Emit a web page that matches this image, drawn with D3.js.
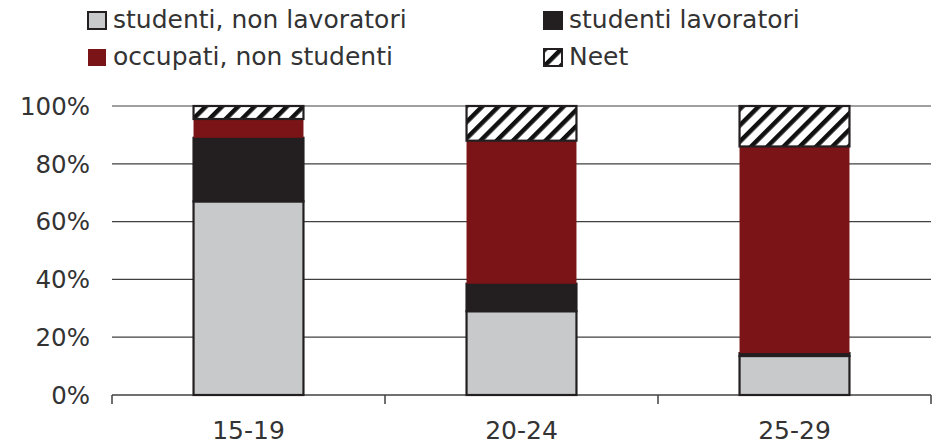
<!DOCTYPE html>
<html>
<head>
<meta charset="utf-8">
<script src="https://cdn.jsdelivr.net/npm/d3@7"></script>
<style>
  body { margin: 0; background: #fff; }
  text { font-family: "DejaVu Sans", Verdana, sans-serif; fill: #333; }
</style>
</head>
<body>
<svg id="chart" width="939" height="446"></svg>
<script>
var categories = ["15-19", "20-24", "25-29"];
var seriesNames = ["studenti, non lavoratori", "studenti lavoratori", "occupati, non studenti", "Neet"];
var studentiNonLavoratori = [67, 29, 13.5];
var studentiLavoratori = [22, 9.5, 1];
var occupatiNonStudenti = [6.5, 49.5, 71.5];
var neet = [4.5, 12, 14];
var yTicks = [0, 20, 40, 60, 80, 100];

var keys = ["snl", "sl", "ons", "neet"];
var rows = categories.map(function(c, i) {
    return {cat: c, snl: studentiNonLavoratori[i], sl: studentiLavoratori[i], ons: occupatiNonStudenti[i], neet: neet[i]};
});

var svg = d3.select("#chart");
var plotLeft = 112, plotRight = 931, plotBottom = 395, plotTop = 106;

var defs = svg.append("defs");
defs.append("pattern")
    .attr("id", "hatch")
    .attr("patternUnits", "userSpaceOnUse")
    .attr("width", 11.5).attr("height", 11.5)
    .attr("patternTransform", "rotate(45)")
    .call(function(p) {
        p.append("rect").attr("width", 11.5).attr("height", 11.5).attr("fill", "#fff");
        p.append("rect").attr("width", 4.5).attr("height", 11.5).attr("fill", "#111");
    });

var fills = {snl: "#c8c9cb", sl: "#231f20", ons: "#7b1416", neet: "url(#hatch)"};
var strokes = {snl: "#231f20", sl: "#231f20", ons: "none", neet: "#231f20"};

var x = d3.scaleBand()
    .domain(categories)
    .range([plotLeft, plotRight])
    .paddingInner(0.59)
    .paddingOuter(0.295);

var xEdges = d3.scaleBand().domain(categories).range([plotLeft, plotRight]).padding(0);

var y = d3.scaleLinear().domain([0, 100]).range([plotBottom, plotTop]);

// gridlines
svg.append("g")
    .selectAll("line")
    .data(yTicks.slice(1))
    .enter().append("line")
    .attr("x1", plotLeft).attr("x2", plotRight)
    .attr("y1", function(d) { return y(d); })
    .attr("y2", function(d) { return y(d); })
    .attr("stroke", "#404040")
    .attr("stroke-width", 1.2);

// y labels
svg.append("g")
    .selectAll("text")
    .data(yTicks)
    .enter().append("text")
    .attr("x", 90)
    .attr("y", function(d) { return y(d); })
    .attr("dy", "0.36em")
    .attr("text-anchor", "end")
    .style("font-size", "24.5px")
    .text(function(d) { return d + "%"; });

// x axis
svg.append("line")
    .attr("x1", plotLeft).attr("x2", plotRight)
    .attr("y1", plotBottom).attr("y2", plotBottom)
    .attr("stroke", "#404040").attr("stroke-width", 1.5);

var edges = categories.map(function(c) { return xEdges(c); }).concat([plotRight]);
svg.append("g")
    .selectAll("line")
    .data(edges)
    .enter().append("line")
    .attr("x1", function(d) { return d; })
    .attr("x2", function(d) { return d; })
    .attr("y1", plotBottom).attr("y2", plotBottom + 9)
    .attr("stroke", "#404040").attr("stroke-width", 1.5);

svg.append("g")
    .selectAll("text")
    .data(categories)
    .enter().append("text")
    .attr("x", function(d) { return x(d) + x.bandwidth() / 2; })
    .attr("y", 439)
    .attr("text-anchor", "middle")
    .style("font-size", "25px")
    .text(function(d) { return d; });

// bars
var stack = d3.stack().keys(keys)(rows);

svg.append("g")
    .selectAll("g")
    .data(stack)
    .enter().append("g")
    .each(function(s) {
        d3.select(this).selectAll("rect")
            .data(s)
            .enter().append("rect")
            .attr("x", function(d) { return x(d.data.cat) + 1; })
            .attr("width", x.bandwidth() - 2)
            .attr("y", function(d) { return y(d[1]); })
            .attr("height", function(d) { return y(d[0]) - y(d[1]); })
            .attr("fill", fills[s.key])
            .attr("stroke", strokes[s.key])
            .attr("stroke-width", 2.2);
    });

// legend
var legendPos = [[87, 11], [543, 11], [87, 48], [543, 48]];
var legendOrder = [0, 1, 2, 3];
var lg = svg.append("g")
    .selectAll("g")
    .data(legendOrder)
    .enter().append("g")
    .attr("transform", function(d) { return "translate(" + legendPos[d][0] + "," + legendPos[d][1] + ")"; });

lg.append("rect")
    .attr("x", 1).attr("y", 1)
    .attr("width", 18).attr("height", 17)
    .attr("fill", function(d) { return fills[keys[d]]; })
    .attr("stroke", function(d) { return d === 2 ? "none" : "#231f20"; })
    .attr("stroke-width", 2);

lg.append("text")
    .attr("x", 26)
    .attr("y", 17)
    .style("font-size", "25px")
    .text(function(d) { return seriesNames[d]; });
</script>
</body>
</html>
